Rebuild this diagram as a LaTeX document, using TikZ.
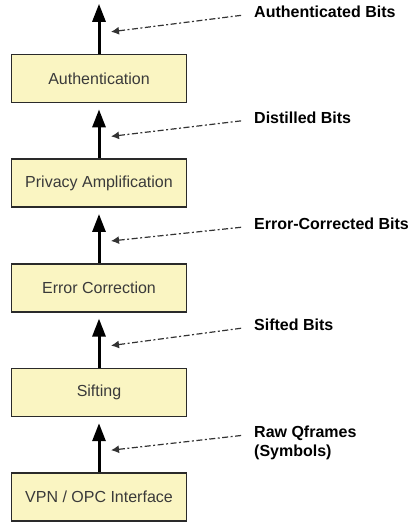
\documentclass[tikz,border=0pt]{standalone}
\usepackage{fontspec}
\setmainfont{Liberation Sans}
\usetikzlibrary{arrows.meta, positioning, calc}
\definecolor{stagefill}{HTML}{FAF5C2}
\definecolor{stageline}{HTML}{2A2A2A}
\definecolor{stagetext}{HTML}{3A3A3A}
\definecolor{feedgray}{HTML}{333333}
\tikzset{
  % blocco della pila di elaborazione
  stage/.style={draw=stageline, line width=1.6pt, fill=stagefill, minimum width=175pt,
    minimum height=48pt, inner sep=0pt, align=center, text=stagetext,
    font=\fontsize{16}{18}\selectfont},
  % flusso principale verso l'alto
  flow/.style={-{Triangle[length=18pt,width=13pt]}, line width=3pt, black},
  % freccia tratteggiata dell'etichetta
  feed/.style={-{Latex[length=8pt,width=8pt]}, line width=1.2pt, feedgray,
    dash pattern=on 6pt off 2.5pt on 2pt off 2.5pt},
  % etichette dei bit
  bitlbl/.style={font=\bfseries\fontsize{16}{19}\selectfont, align=left, anchor=west,
    inner sep=0pt},
}
\begin{document}
\begin{tikzpicture}[x=1pt, y=1pt, node distance=55pt]
  \useasboundingbox (0,0) rectangle (411,523);
  \node[stage] (vpn) at (99,26) {VPN / OPC Interface};
  \node[stage, above=of vpn] (sift) {Sifting};
  \node[stage, above=of sift] (err) {Error Correction};
  \node[stage, above=of err] (priv) {Privacy Amplification};
  \node[stage, above=of priv] (auth) {Authentication};
  \coordinate (out) at ([yshift=50pt]auth.north);
  \draw[flow] (auth.north) -- (out);
  \foreach \a/\b in {vpn/sift, sift/err, err/priv, priv/auth}
    \draw[flow, shorten >=6pt] (\a.north) -- (\b.south);
  \foreach \s/\dy/\lab in {auth/20/Authenticated Bits, priv/19/Distilled Bits,
      err/17/Error-Corrected Bits, sift/21/Sifted Bits, vpn/7/{Raw Qframes\\(Symbols)}} {
    \coordinate (t-\s) at ([xshift=12pt, yshift=22pt]\s.north);
    \node[bitlbl] (l-\s) at ([shift={(143,\dy)}]t-\s) {\lab};
    \draw[feed, shorten <=13pt] ([yshift=-8pt]l-\s.north west) -- (t-\s);
  }
\end{tikzpicture}
\end{document}
